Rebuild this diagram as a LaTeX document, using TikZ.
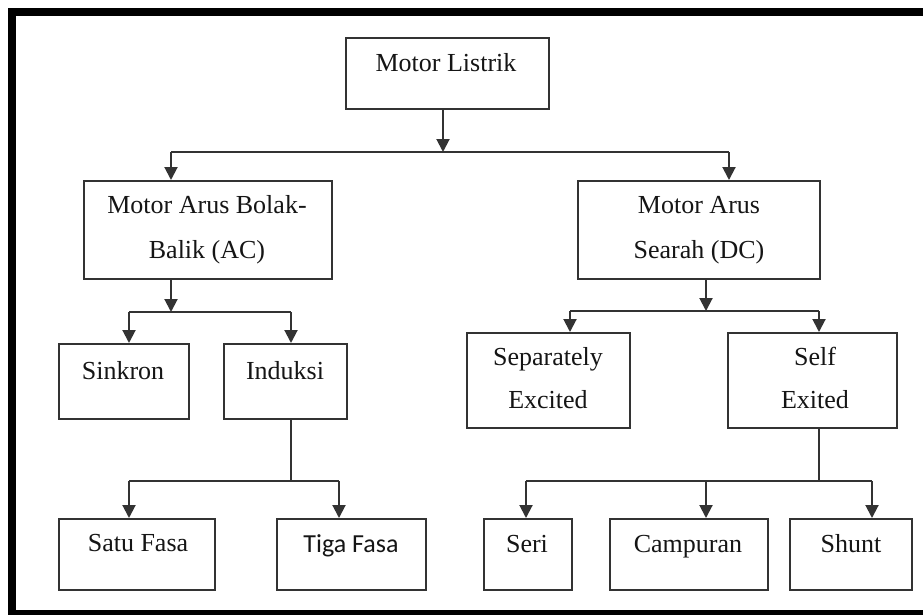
\documentclass[tikz,border=0pt]{standalone}
\usepackage{fontspec}
\setmainfont{Liberation Serif}
\newfontfamily\calfont{Carlito}
\usetikzlibrary{arrows.meta}
\definecolor{ink}{HTML}{333333}
\definecolor{txt}{HTML}{151515}
\tikzset{
  box/.style={draw=ink, line width=2.2pt, fill=white, rectangle, inner sep=0pt, anchor=north west},
  lbl/.style={text=txt, font=\fontsize{26}{45}\selectfont, inner sep=0pt, anchor=base, align=center},
  conn/.style={draw=ink, line width=2pt},
  arr/.style={conn, -{Triangle[width=13pt,length=13pt]}},
}
\newcommand{\mybox}[5]{\node[box, minimum width=#4-#2, minimum height=#5-#3] (#1) at (#2,#3) {};}
\begin{document}
\begin{tikzpicture}[x=1pt,y=-1pt]
\useasboundingbox (0,0) rectangle (923,615);
\clip (0,0) rectangle (923,615);
\fill[white] (0,0) rectangle (923,615);
\draw[line width=8pt, black] (12,12) rectangle (932,614);

% boxes
\mybox{ml}{345}{37}{548}{108}
\mybox{ac}{83}{180}{331}{278}
\mybox{dc}{577}{180}{819}{278}
\mybox{sk}{58}{343}{188}{418}
\mybox{in}{223}{343}{346}{418}
\mybox{sf}{58}{518}{214}{589}
\mybox{tf}{276}{518}{425}{589}
\mybox{se}{466}{332}{629}{427}
\mybox{sx}{727}{332}{896}{427}
\mybox{sr}{483}{518}{571}{589}
\mybox{cp}{609}{518}{767}{589}
\mybox{sh}{789}{518}{911}{589}

% labels
\node[lbl] (tml) at (446,72) {Motor Listrik};
\node[lbl] (tac1) at (207,213) {Motor Arus Bolak-};
\node[lbl] (tac2) at (207,258) {Balik (AC)};
\node[lbl] (tdc1) at (699,213) {Motor Arus};
\node[lbl] (tdc2) at (699,258) {Searah (DC)};
\node[lbl] (tsk) at (123,379) {Sinkron};
\node[lbl] (tin) at (285,379) {Induksi};
\node[lbl] (tsf) at (138,551) {Satu Fasa};
\node[lbl, font=\calfont\fontsize{26}{30}\selectfont] (ttf) at (351,552) {Tiga Fasa};
\node[lbl] (tse1) at (548,365) {Separately};
\node[lbl] (tse2) at (548,408) {Excited};
\node[lbl] (tsx1) at (815,365) {Self};
\node[lbl] (tsx2) at (815,408) {Exited};
\node[lbl] (tsr) at (527,552) {Seri};
\node[lbl] (tcp) at (688,552) {Campuran};
\node[lbl] (tsh) at (851,552) {Shunt};

% junction coordinates
\coordinate (m1) at (443,152);
\coordinate (a1) at (171,152);
\coordinate (d1) at (729,152);
\coordinate (a2) at (171,312);
\coordinate (s1) at (129,312);
\coordinate (i1) at (291,312);
\coordinate (i2) at (291,481);
\coordinate (f1) at (129,481);
\coordinate (f2) at (339,481);
\coordinate (d2) at (706,311);
\coordinate (e1) at (570,311);
\coordinate (e2) at (819,311);
\coordinate (x2) at (819,481);
\coordinate (r1) at (526,481);
\coordinate (r2) at (706,481);
\coordinate (r3) at (872,481);

% connectors
\draw[arr] (m1 |- ml.south) -- (m1);
\draw[conn] (a1) -- (d1);
\draw[arr] (a1) -- (a1 |- ac.north);
\draw[arr] (d1) -- (d1 |- dc.north);

\draw[arr] (a2 |- ac.south) -- (a2);
\draw[conn] (s1) -- (i1);
\draw[arr] (s1) -- (s1 |- sk.north);
\draw[arr] (i1) -- (i1 |- in.north);

\draw[conn] (i2 |- in.south) -- (i2);
\draw[conn] (f1) -- (f2);
\draw[arr] (f1) -- (f1 |- sf.north);
\draw[arr] (f2) -- (f2 |- tf.north);

\draw[arr] (d2 |- dc.south) -- (d2);
\draw[conn] (e1) -- (e2);
\draw[arr] (e1) -- (e1 |- se.north);
\draw[arr] (e2) -- (e2 |- sx.north);

\draw[conn] (x2 |- sx.south) -- (x2);
\draw[conn] (r1) -- (r3);
\draw[arr] (r1) -- (r1 |- sr.north);
\draw[arr] (r2) -- (r2 |- cp.north);
\draw[arr] (r3) -- (r3 |- sh.north);
\end{tikzpicture}
\end{document}
